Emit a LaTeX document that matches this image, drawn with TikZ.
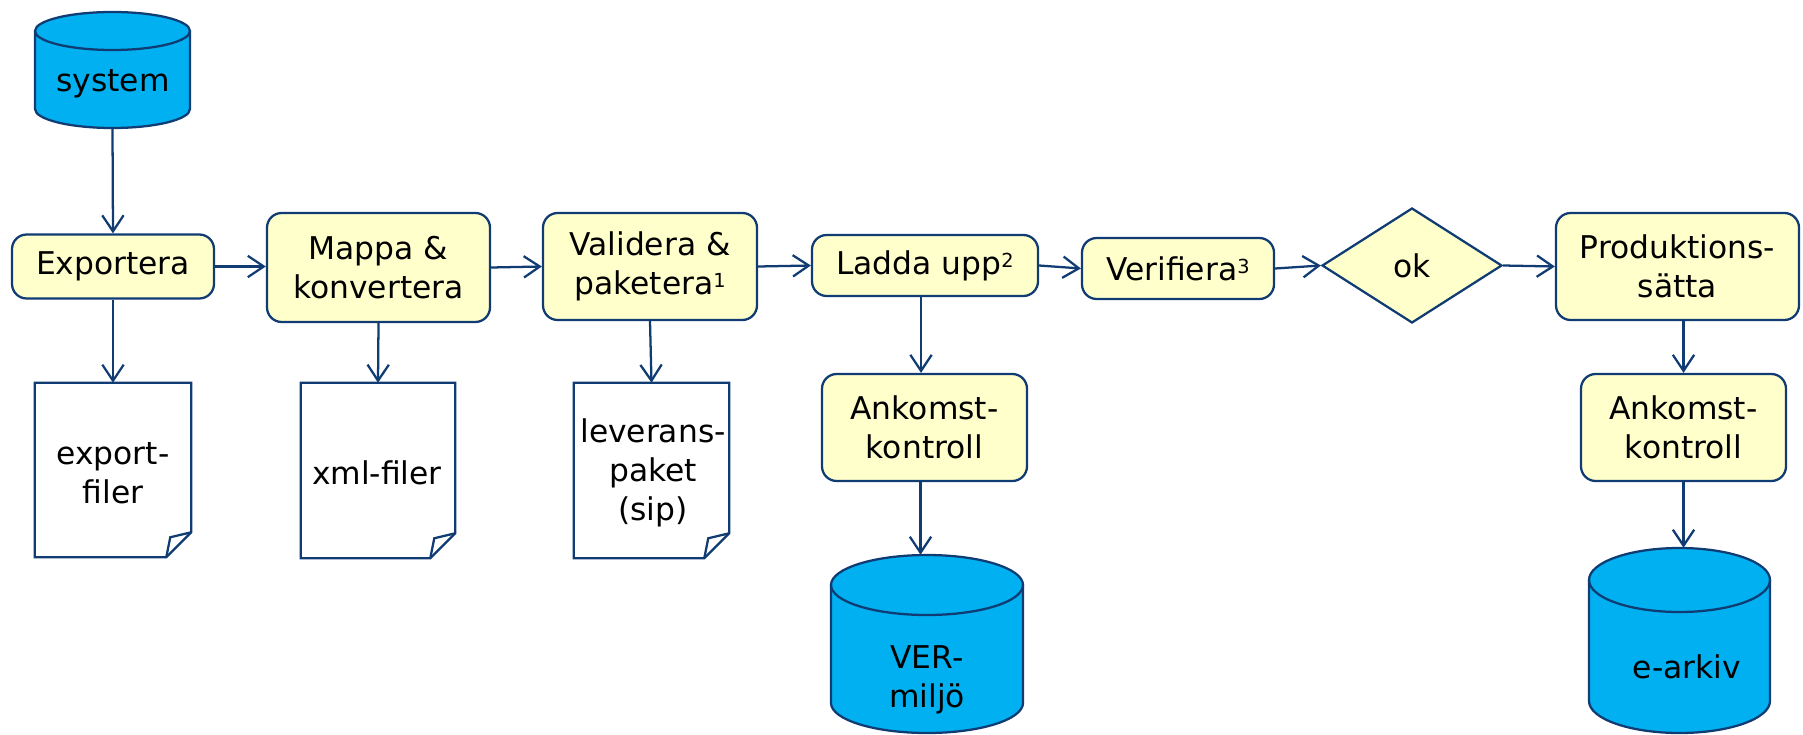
\documentclass[tikz,border=0pt]{standalone}
\usepackage{fontspec}
\setmainfont{DejaVu Sans}
\usetikzlibrary{arrows.meta,shapes.geometric,fit,calc}
\definecolor{edge}{RGB}{16,60,115}
\definecolor{procfill}{RGB}{255,255,204}
\definecolor{dbfill}{RGB}{0,176,240}

% small raised footnote number
\newcommand\upnote[1]{\raisebox{5pt}{\fontsize{14.5}{15}\selectfont #1}}

% database cylinder: #1 name, #2 left, #3 right, #4 top, #5 bottom, #6 ellipse half-height
\newcommand\dbcyl[6]{%
  \pgfmathsetmacro\cm{(#2+#3)/2}\pgfmathsetmacro\cw{(#3-#2)/2}%
  \pgfmathsetmacro\ct{#4+#6}\pgfmathsetmacro\cb{#5-#6}%
  \pgfmathsetmacro\kx{0.5523*\cw}\pgfmathsetmacro\ky{0.5523*#6}%
  \filldraw[cylstyle] (#2,\ct) -- (#2,\cb)
    .. controls (#2,\cb+\ky) and (\cm-\kx,#5) .. (\cm,#5)
    .. controls (\cm+\kx,#5) and (#3,\cb+\ky) .. (#3,\cb)
    -- (#3,\ct)
    .. controls (#3,\ct-\ky) and (\cm+\kx,#4) .. (\cm,#4)
    .. controls (\cm-\kx,#4) and (#2,\ct-\ky) .. cycle;
  \draw[cylstyle,fill=none] (#2,\ct)
    .. controls (#2,\ct+\ky) and (\cm-\kx,\ct+#6) .. (\cm,\ct+#6)
    .. controls (\cm+\kx,\ct+#6) and (#3,\ct+\ky) .. (#3,\ct);
  \node[fit={(#2,#4) (#3,#5)}, inner sep=0pt] (#1) {};%
}

% document outline with folded corner around node #1
\newcommand\docshape[1]{%
  \filldraw[docline] (#1.north west) -- (#1.north east)
    -- ([yshift=18.75pt]#1.south east) -- ([xshift=-18.75pt]#1.south east)
    -- (#1.south west) -- cycle;
  \draw[docline,fill=none] ([xshift=-18.75pt]#1.south east)
    -- ([xshift=-15.75pt,yshift=15pt]#1.south east)
    -- ([yshift=18.75pt]#1.south east);
}

\begin{document}
\begin{tikzpicture}[x=0.75pt,y=-0.75pt,
  every node/.style={font=\fontsize{23.5}{29}\selectfont, text=black},
  proc/.style={draw=edge, fill=procfill, line width=1.7pt, rounded corners=11pt,
    align=center, inner sep=0pt},
  decision/.style={draw=edge, fill=procfill, line width=1.7pt, diamond,
    inner sep=0pt, minimum width=135pt, minimum height=86.25pt},
  docnode/.style={inner sep=0pt, align=center},
  docline/.style={draw=edge, fill=white, line width=1.7pt, line join=miter},
  cylstyle/.style={draw=edge, fill=dbfill, line width=1.7pt},
  flow/.style={draw=edge, line width=1.7pt,
    -{Straight Barb[length=12pt,width=16pt]}},
]
\useasboundingbox (0,0) rectangle (1803,735);

% databases
\dbcyl{sys}{35}{190}{12}{128}{19}
\node (syst) at (113,84) {system};
\dbcyl{verdb}{831}{1023}{555}{733}{30}
\node[align=center] (verdbt) at (927,680) {VER-\\miljö};
\dbcyl{arkdb}{1589}{1770}{548}{733}{32}
\node (arkdbt) at (1687,667) {e-arkiv};

% process steps
\node[proc, minimum width=151.5pt, minimum height=48pt] (exp) at (113,266.5) {Exportera};
\node[proc, minimum width=167.25pt, minimum height=81.75pt] (map) at (378.5,267.5) {Mappa \&\\konvertera};
\node[proc, minimum width=160.5pt, minimum height=80.25pt] (val) at (650,266.5) {Validera \&\\paketera\upnote{1}};
\node[proc, minimum width=169.5pt, minimum height=45.75pt] (lad) at (925,265.5) {Ladda upp\upnote{2}};
\node[proc, minimum width=153.75pt, minimum height=80.25pt] (ank1) at (924.5,427.5) {Ankomst-\\kontroll};
\node[proc, minimum width=144pt, minimum height=45.75pt] (ver) at (1178,268.5) {Verifiera\upnote{3}};
\node[decision] (ok) at (1412,265.5) {ok};
\node[proc, minimum width=182.25pt, minimum height=80.25pt] (prod) at (1677.5,266.5) {Produktions-\\sätta};
\node[proc, minimum width=153.75pt, minimum height=80.25pt] (ank2) at (1683.5,427.5) {Ankomst-\\kontroll};

% documents
\node[docnode, minimum width=117pt, minimum height=130.5pt] (expdoc) at (113,470) {};
\docshape{expdoc}
\node[docnode] (expdoct) at (113,473) {export-\\filer};
\node[docnode, minimum width=115.5pt, minimum height=131.25pt] (xmldoc) at (378,470.5) {};
\docshape{xmldoc}
\node[docnode] (xmldoct) at (377,473) {xml-filer};
\node[docnode, minimum width=116.25pt, minimum height=131.25pt] (levdoc) at (651.5,470.5) {};
\docshape{levdoc}
\node[docnode] (levdoct) at (653,473) {leverans-\\paket\\(sip)};

% flow
\draw[flow] (sys.south) -- (exp.north);
\draw[flow] (exp.east) -- (exp.east -| map.west);
\draw[flow] (map.east) -- (val.west);
\draw[flow] (val.east) -- (lad.west);
\draw[flow] (lad.east) -- (ver.west);
\draw[flow] (ver.east) -- (ok.west);
\draw[flow] (ok.east) -- (prod.west);
\draw[flow] (exp.south) -- (expdoc.north);
\draw[flow] (map.south) -- (xmldoc.north);
\draw[flow] (val.south) -- (levdoc.north);
\draw[flow] ([xshift=-3pt]lad.south) -- ([xshift=-3pt]lad.south |- ank1.north);
\draw[flow] ([xshift=-3pt]ank1.south) -- ([xshift=-3pt]ank1.south |- verdb.north);
\draw[flow] (prod.south -| ank2.south) -- (ank2.north);
\draw[flow] (ank2.south) -- (ank2.south |- arkdb.north);
\end{tikzpicture}
\end{document}
